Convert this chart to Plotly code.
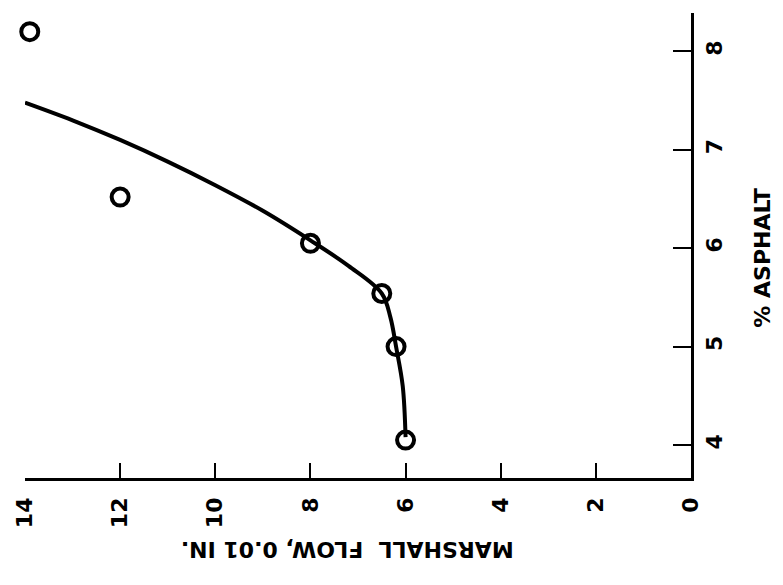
import plotly.graph_objects as go

# Measured test points: Marshall flow (0.01 in.) vs. asphalt content (%)
flow_points = [6.0, 6.2, 6.5, 8.0, 12.0, 13.9]
asphalt_points = [4.05, 5.0, 5.54, 6.05, 6.52, 8.2]

# Hand-drawn trend curve
curve_flow = [6.0, 6.06, 6.2, 6.32, 6.5, 7.2, 8.0, 9.0, 10.0, 11.0, 12.0, 13.0, 14.0]
curve_asphalt = [4.08, 4.6, 5.0, 5.3, 5.54, 5.82, 6.08, 6.38, 6.64, 6.88, 7.10, 7.30, 7.48]

# Axis ticks
flow_ticks = [0, 2, 4, 6, 8, 10, 12, 14]
asphalt_ticks = [4, 5, 6, 7, 8]

FONT = "DejaVu Sans"

fig = go.Figure()

fig.add_trace(go.Scatter(
    x=curve_flow, y=curve_asphalt, mode="lines",
    line=dict(color="black", width=4, shape="spline", smoothing=1.0),
    hoverinfo="skip", showlegend=False, cliponaxis=False,
))

fig.add_trace(go.Scatter(
    x=flow_points, y=asphalt_points, mode="markers",
    marker=dict(symbol="circle-open", size=17, color="black",
                line=dict(color="black", width=4)),
    showlegend=False, cliponaxis=False,
))

fig.update_xaxes(
    range=[14, 0], tickvals=flow_ticks, ticktext=[str(v) for v in flow_ticks],
    tickangle=-90, ticks="inside", ticklen=15, tickwidth=2, tickcolor="black",
    showline=True, linecolor="black", linewidth=2.5,
    showgrid=False, zeroline=False, ticklabelstandoff=8,
    tickfont=dict(family=FONT, size=22, color="black", weight="bold"),
)

fig.update_yaxes(
    range=[3.665, 8.39], side="right", tickvals=asphalt_ticks,
    ticktext=[str(v) for v in asphalt_ticks],
    tickangle=-90, ticks="inside", ticklen=18, tickwidth=2, tickcolor="black",
    showline=True, linecolor="black", linewidth=2.5,
    showgrid=False, zeroline=False, ticklabelstandoff=2,
    tickfont=dict(family=FONT, size=22, color="black", weight="bold"),
)

fig.add_annotation(
    text="MARSHALL\u00a0 FLOW, 0.01 IN.", xref="paper", yref="paper",
    x=0.484, y=-0.155, textangle=180, showarrow=False,
    xanchor="center", yanchor="middle",
    font=dict(family=FONT, size=22, color="black", weight="bold"),
)

fig.add_annotation(
    text="% ASPHALT", xref="paper", yref="paper",
    x=1.106, y=0.473, textangle=-90, showarrow=False,
    xanchor="center", yanchor="middle",
    font=dict(family=FONT, size=22, color="black", weight="bold"),
)

fig.update_layout(
    width=783, height=585,
    margin=dict(l=20, r=92, t=13, b=107),
    paper_bgcolor="white", plot_bgcolor="white",
)

fig.write_html("out.html")
